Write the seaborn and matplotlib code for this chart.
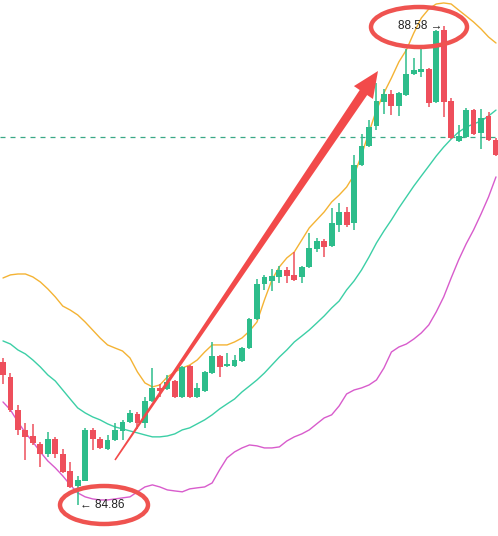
import numpy as np
import pandas as pd
import matplotlib
matplotlib.use("Agg")
import matplotlib.pyplot as plt
from matplotlib.patches import Ellipse, Polygon
import seaborn as sns

# candle data (open, high, low, close)
opens = [85.971, 85.854, 85.598, 85.443, 85.396, 85.334, 85.256, 85.373, 85.256, 85.124,
         85.008, 85.047, 85.443, 85.373, 85.295, 85.365, 85.435, 85.505, 85.567, 85.497,
         85.668, 85.769, 85.761, 85.823, 85.699, 85.940, 85.699, 85.746, 85.885, 86.017,
         85.940, 85.940, 85.978, 86.079, 86.305, 86.576, 86.600, 86.631, 86.685, 86.646,
         86.631, 86.708, 86.848, 86.910, 86.872, 87.035, 87.136, 87.050, 87.501, 87.648,
         87.804, 87.990, 88.052, 87.959, 88.044, 88.207, 88.223, 88.246, 87.990, 88.549,
         87.998, 87.687, 87.718, 87.928, 87.749, 87.881, 87.695]
highs = [86.002, 85.885, 85.637, 85.497, 85.489, 85.349, 85.427, 85.388, 85.295, 85.194,
         85.085, 85.458, 85.458, 85.388, 85.404, 85.497, 85.520, 85.598, 85.582, 85.699,
         85.924, 85.800, 85.870, 85.831, 85.940, 85.947, 85.808, 85.901, 86.126, 86.025,
         86.041, 86.025, 86.087, 86.312, 86.615, 86.646, 86.693, 86.716, 86.708, 86.825,
         86.716, 86.973, 86.934, 86.926, 87.167, 87.206, 87.174, 87.578, 87.741, 87.850,
         88.137, 88.091, 88.083, 88.068, 88.401, 88.332, 88.401, 88.254, 88.549, 88.580,
         88.021, 87.811, 87.943, 87.935, 87.935, 87.912, 87.710]
lows = [85.800, 85.582, 85.404, 85.210, 85.326, 85.155, 85.233, 85.225, 85.109, 84.992,
        84.860, 85.047, 85.287, 85.295, 85.287, 85.357, 85.365, 85.497, 85.450, 85.458,
        85.660, 85.699, 85.753, 85.691, 85.691, 85.691, 85.691, 85.738, 85.877, 85.854,
        85.932, 85.932, 85.971, 86.072, 86.297, 86.530, 86.522, 86.584, 86.584, 86.600,
        86.584, 86.701, 86.825, 86.786, 86.864, 86.980, 87.019, 86.996, 87.493, 87.640,
        87.772, 87.897, 87.889, 87.881, 88.036, 88.200, 88.184, 87.951, 87.982, 87.873,
        87.703, 87.679, 87.710, 87.734, 87.625, 87.687, 87.571]
closes = [85.870, 85.598, 85.443, 85.388, 85.342, 85.256, 85.373, 85.256, 85.116, 85.000,
          85.054, 85.443, 85.373, 85.303, 85.365, 85.443, 85.505, 85.575, 85.497, 85.668,
          85.769, 85.746, 85.815, 85.699, 85.932, 85.699, 85.769, 85.893, 86.017, 85.932,
          85.955, 85.986, 86.079, 86.305, 86.576, 86.631, 86.639, 86.685, 86.639, 86.607,
          86.708, 86.856, 86.910, 86.864, 87.050, 87.136, 87.035, 87.501, 87.648, 87.796,
          87.998, 88.052, 87.959, 88.060, 88.207, 88.238, 88.246, 87.982, 88.541, 87.990,
          87.710, 87.726, 87.928, 87.741, 87.866, 87.695, 87.578]

# bollinger bands
upper = [86.623, 86.647, 86.654, 86.654, 86.631, 86.592, 86.538, 86.476, 86.405, 86.374,
         86.336, 86.281, 86.219, 86.157, 86.103, 86.079, 86.056, 86.002, 85.893, 85.808,
         85.777, 85.792, 85.854, 85.893, 85.924, 85.947, 85.986, 86.048, 86.103, 86.103,
         86.103, 86.126, 86.157, 86.211, 86.281, 86.452, 86.608, 86.709, 86.779, 86.825,
         86.918, 87.012, 87.074, 87.136, 87.213, 87.267, 87.329, 87.423, 87.578, 87.756,
         87.927, 88.060, 88.176, 88.301, 88.394, 88.526, 88.642, 88.712, 88.751, 88.759,
         88.751, 88.704, 88.658, 88.611, 88.557, 88.495, 88.448]
middle = [86.134, 86.110, 86.064, 86.033, 85.986, 85.932, 85.870, 85.823, 85.753, 85.683,
          85.614, 85.575, 85.544, 85.521, 85.490, 85.466, 85.451, 85.435, 85.420, 85.404,
          85.389, 85.389, 85.396, 85.412, 85.443, 85.459, 85.490, 85.521, 85.560, 85.606,
          85.645, 85.683, 85.738, 85.784, 85.831, 85.885, 85.947, 86.009, 86.064, 86.126,
          86.172, 86.219, 86.273, 86.328, 86.390, 86.444, 86.530, 86.600, 86.685, 86.786,
          86.895, 86.988, 87.074, 87.167, 87.252, 87.337, 87.415, 87.492, 87.570, 87.640,
          87.702, 87.756, 87.795, 87.819, 87.842, 87.881, 87.927]
lower = [85.660, 85.598, 85.505, 85.420, 85.350, 85.272, 85.202, 85.148, 85.086, 85.016,
         84.954, 84.923, 84.907, 84.899, 84.899, 84.907, 84.915, 84.923, 84.962, 85.000,
         85.016, 85.000, 84.977, 84.969, 84.962, 84.985, 84.993, 85.000, 85.031, 85.133,
         85.226, 85.272, 85.303, 85.326, 85.319, 85.303, 85.303, 85.311, 85.357, 85.389,
         85.412, 85.443, 85.490, 85.536, 85.560, 85.629, 85.722, 85.753, 85.769, 85.792,
         85.831, 85.924, 86.048, 86.087, 86.110, 86.149, 86.196, 86.258, 86.359, 86.476,
         86.623, 86.763, 86.887, 86.996, 87.120, 87.252, 87.408]

price_line = 87.718

df = pd.DataFrame({"o": opens, "h": highs, "l": lows, "c": closes,
                   "up": upper, "mid": middle, "lo": lower})
df["i"] = np.arange(len(df))

GREEN = "#2dbd8b"
RED = "#ee4f5c"
MARK = "#ef5350"

sns.set_style("white")
fig = plt.figure(figsize=(4.98, 5.36), dpi=100)
ax = fig.add_axes([0, 0, 1, 1])

sns.lineplot(data=df, x="i", y="up", ax=ax, color="#f4b334", lw=1.0)
sns.lineplot(data=df, x="i", y="mid", ax=ax, color="#3ccfa6", lw=1.0)
sns.lineplot(data=df, x="i", y="lo", ax=ax, color="#d85ccc", lw=1.0)

ax.axhline(price_line, color="#3aa886", lw=0.9, ls=(0, (4, 4)))

up_mask = df["c"] >= df["o"]
colors = np.where(up_mask, GREEN, RED)
ax.vlines(df["i"], df["l"], df["h"], colors=colors, lw=1.1, zorder=3)
body_lo = np.minimum(df["o"], df["c"])
body_h = np.maximum(np.abs(df["c"] - df["o"]), 0.004)
ax.bar(df["i"], body_h, bottom=body_lo, width=0.78, color=colors, zorder=4, lw=0)

ax.set_xlim(-0.4, 66.27)
ax.set_ylim(84.619, 88.782)
ax.set_xlabel("")
ax.set_ylabel("")
ax.set_xticks([])
ax.set_yticks([])
for s in ax.spines.values():
    s.set_visible(False)

# high / low markers
hi = df["h"].idxmax()
lo = df["l"].idxmin()
ax.text(hi - 0.2, df["h"][hi], f"{df['h'][hi]:.2f} \u2192", ha="right", va="center",
        fontsize=8.5, family=["Liberation Sans", "DejaVu Sans"], color="#222222", zorder=6)
ax.text(lo + 0.3, df["l"][lo], f"\u2190 {df['l'][lo]:.2f}", ha="left", va="center",
        fontsize=8.5, family=["Liberation Sans", "DejaVu Sans"], color="#222222", zorder=6)


def px(x, y):
    return (x / 498.0, 1 - y / 536.0)


ax.add_patch(Ellipse(px(419, 27), 96 / 498, 40 / 536, transform=ax.transAxes,
                     fill=False, ec=MARK, lw=3.2, zorder=7))
ax.add_patch(Ellipse(px(104, 505), 88 / 498, 38 / 536, transform=ax.transAxes,
                     fill=False, ec=MARK, lw=3.2, zorder=7))

# big trend arrow, tapered shaft
S = np.array([115.0, 460.0])
T = np.array([378.0, 71.0])
u = (T - S) / np.linalg.norm(T - S)
n = np.array([-u[1], u[0]])
B = T - u * 26
pts = [S + n * 0.8, B + n * 4.5, B + n * 11.5, T, B - n * 11.5, B - n * 4.5, S - n * 0.8]
ax.add_patch(Polygon([px(*p) for p in pts], closed=True, transform=ax.transAxes,
                     fc="#f24a4a", ec="none", zorder=8))

fig.savefig("out.png", dpi=100)
plt.close(fig)
